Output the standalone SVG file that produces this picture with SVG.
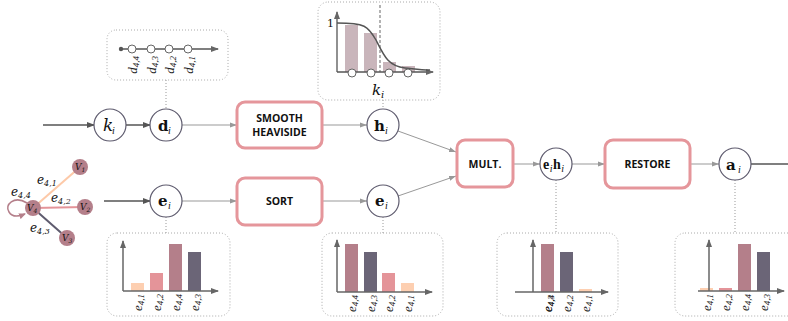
<svg xmlns="http://www.w3.org/2000/svg" width="788" height="321" viewBox="0 0 788 321">
<defs>
<style>
.node{fill:#fff;stroke:#5e5b6e;stroke-width:1.2}
.box{fill:#fff;stroke:#e5969b;stroke-width:3}
.blabel{font-family:"Open Sans","Liberation Sans",sans-serif;font-weight:bold;font-size:10.5px;fill:#111;text-anchor:middle}
.math{font-family:"DejaVu Serif","Liberation Serif",serif;fill:#111}
.mb{font-family:"DejaVu Serif","Liberation Serif",serif;font-weight:bold;font-size:15px;fill:#111}
.mbn{font-family:"Liberation Serif","DejaVu Serif",serif;font-weight:bold;font-size:14px;fill:#111}
.mi{font-family:"Liberation Serif","DejaVu Serif",serif;font-style:italic;font-size:10px;fill:#111}
.dk{stroke:#555;stroke-width:1.5;fill:none}
.lt{stroke:#999;stroke-width:1;fill:none}
.dot{stroke:#999;stroke-width:1;stroke-dasharray:1 2;fill:none}
.dbox{fill:#fff;stroke:#aaa;stroke-width:1;stroke-dasharray:1 2}
.ax{stroke:#666;stroke-width:1.5;fill:none}
.lbl{font-family:"Liberation Serif","DejaVu Serif",serif;font-style:italic;font-size:13px;fill:#222;text-anchor:end}
.peach{fill:#fdcfb1}.pink{fill:#e49499}.mauve{fill:#b47f8a}.dark{fill:#6b6577}
</style>
<marker id="ad" markerWidth="8" markerHeight="8" refX="7" refY="4" orient="auto" markerUnits="userSpaceOnUse"><path d="M0,1 L8,4 L0,7 z" fill="#555"/></marker>
<marker id="al" markerWidth="7" markerHeight="6" refX="7" refY="3" orient="auto" markerUnits="userSpaceOnUse"><path d="M0,0.5 L7,3 L0,5.5 z" fill="#999"/></marker>
<marker id="aa" markerWidth="8" markerHeight="8" refX="7" refY="4" orient="auto" markerUnits="userSpaceOnUse"><path d="M0,1 L8,4 L0,7 z" fill="#666"/></marker>
<marker id="am" markerWidth="7" markerHeight="7" refX="6" refY="3.5" orient="auto" markerUnits="userSpaceOnUse"><path d="M0,0.5 L7,3.5 L0,6.5 z" fill="#b47f8a"/></marker>
</defs>

<g id="connectors">
<line class="dk" x1="43" y1="125" x2="94" y2="125" marker-end="url(#ad)"/>
<line class="dk" x1="126" y1="125" x2="150" y2="125" marker-end="url(#ad)"/>
<line class="lt" x1="182" y1="125" x2="237" y2="125" marker-end="url(#al)"/>
<line class="lt" x1="322" y1="125" x2="367" y2="125" marker-end="url(#al)"/>
<line class="dk" x1="104" y1="201" x2="150" y2="201" marker-end="url(#ad)"/>
<line class="lt" x1="182" y1="201" x2="237" y2="201" marker-end="url(#al)"/>
<line class="lt" x1="322" y1="201" x2="367" y2="201" marker-end="url(#al)"/>
<line class="lt" x1="398" y1="131" x2="456" y2="152" marker-end="url(#al)"/>
<line class="lt" x1="398" y1="196" x2="456" y2="176" marker-end="url(#al)"/>
<line class="lt" x1="513" y1="164" x2="540" y2="164" marker-end="url(#al)"/>
<line class="lt" x1="572" y1="164" x2="605" y2="164" marker-end="url(#al)"/>
<line class="lt" x1="690" y1="164" x2="719" y2="164" marker-end="url(#al)"/>
<line class="dk" x1="751" y1="164" x2="788" y2="164"/>
<line class="dot" x1="166" y1="80" x2="166" y2="109"/>
<line class="dot" x1="383" y1="100" x2="383" y2="109"/>
<line class="dot" x1="166" y1="217" x2="166" y2="233"/>
<line class="dot" x1="383" y1="217" x2="383" y2="233"/>
<line class="dot" x1="556" y1="180" x2="556" y2="233"/>
<line class="dot" x1="735" y1="180" x2="735" y2="233"/>
</g>

<g id="node-k">
<circle class="node" cx="110" cy="125" r="16"/>
<text class="math" x="103" y="131" font-size="17" font-style="italic">k</text><text class="mi" x="112" y="134">i</text>
</g>
<g id="node-d">
<circle class="node" cx="166" cy="125" r="16"/>
<text class="mb" x="158" y="131">d</text><text class="mi" x="168" y="134">i</text>
</g>
<g id="node-smooth">
<rect class="box" x="237" y="102" width="85" height="46" rx="8"/>
<text class="blabel" x="279.5" y="122">SMOOTH</text>
<text class="blabel" x="279.5" y="136">HEAVISIDE</text>
</g>
<g id="node-h">
<circle class="node" cx="383" cy="125" r="16"/>
<text class="mb" x="374" y="131">h</text><text class="mi" x="385" y="134">i</text>
</g>
<g id="node-e1">
<circle class="node" cx="166" cy="201" r="16"/>
<text class="mb" x="158" y="206">e</text><text class="mi" x="168" y="209">i</text>
</g>
<g id="node-sort">
<rect class="box" x="237" y="178" width="85" height="47" rx="8"/>
<text class="blabel" x="279.5" y="205">SORT</text>
</g>
<g id="node-e2">
<circle class="node" cx="383" cy="201" r="16"/>
<text class="mb" x="375" y="206">e</text><text class="mi" x="385" y="209">i</text>
</g>
<g id="node-mult">
<rect class="box" x="457" y="140" width="56" height="47" rx="8"/>
<text class="blabel" x="485" y="168">MULT.</text>
</g>
<g id="node-eh">
<circle class="node" cx="556" cy="164" r="16"/>
<text class="mbn" x="543" y="169">e</text><text class="mi" x="549.8" y="172" font-size="8">i</text><text class="mbn" x="553" y="169">h</text><text class="mi" x="561.3" y="172" font-size="8">i</text>
</g>
<g id="node-restore">
<rect class="box" x="605" y="140" width="85" height="48" rx="8"/>
<text class="blabel" x="647.5" y="168">RESTORE</text>
</g>
<g id="node-a">
<circle class="node" cx="735" cy="164" r="16"/>
<text class="mb" x="726" y="170" font-size="17">a</text><text class="mi" x="738" y="173">i</text>
</g>

<g id="graph">
<line x1="33" y1="208" x2="80" y2="167" stroke="#fdc9a8" stroke-width="2"/>
<line x1="33" y1="208" x2="85" y2="207" stroke="#e49499" stroke-width="2"/>
<line x1="33" y1="208" x2="67" y2="238" stroke="#5e5b6e" stroke-width="2"/>
<path d="M27,203 C14,195 4,205 9,212 C12,217 18,217 25,214" fill="none" stroke="#b47f8a" stroke-width="1.5" marker-end="url(#am)"/>
<circle cx="33" cy="208" r="8" fill="#b47f8a"/>
<circle cx="80" cy="167" r="8" fill="#b47f8a"/>
<circle cx="85" cy="207" r="8" fill="#b47f8a"/>
<circle cx="67" cy="238" r="8" fill="#b47f8a"/>
<text class="math" font-size="9" font-style="italic" x="27" y="211">V<tspan font-size="6" dy="2">4</tspan></text>
<text class="math" font-size="9" font-style="italic" x="75" y="170">V<tspan font-size="6" dy="2">1</tspan></text>
<text class="math" font-size="9" font-style="italic" x="80" y="210">V<tspan font-size="6" dy="2">2</tspan></text>
<text class="math" font-size="9" font-style="italic" x="62" y="241">V<tspan font-size="6" dy="2">3</tspan></text>
<text class="math" font-size="12" font-style="italic" x="37" y="184">e<tspan font-size="8" dy="2">4,1</tspan></text>
<text class="math" font-size="12" font-style="italic" x="51" y="202">e<tspan font-size="8" dy="2">4,2</tspan></text>
<text class="math" font-size="12" font-style="italic" x="11" y="196">e<tspan font-size="8" dy="2">4,4</tspan></text>
<text class="math" font-size="12" font-style="italic" x="30" y="232">e<tspan font-size="8" dy="2">4,3</tspan></text>
</g>

<g id="panel-d">
<rect class="dbox" x="107" y="30" width="121" height="50" rx="9"/>
<line x1="121" y1="49" x2="218" y2="49" stroke="#555" stroke-width="1.3" marker-end="url(#aa)"/>
<circle cx="121" cy="49" r="2.2" fill="#555"/>
<circle cx="132" cy="49" r="4" fill="#fff" stroke="#666"/>
<circle cx="151" cy="49" r="4" fill="#fff" stroke="#666"/>
<circle cx="169" cy="49" r="4" fill="#fff" stroke="#666"/>
<circle cx="188" cy="49" r="4" fill="#fff" stroke="#666"/>
<text class="lbl" transform="rotate(-90 137 56)" x="137" y="56">d<tspan font-size="9" dy="2">4,4</tspan></text>
<text class="lbl" transform="rotate(-90 156 56)" x="156" y="56">d<tspan font-size="9" dy="2">4,3</tspan></text>
<text class="lbl" transform="rotate(-90 174 56)" x="174" y="56">d<tspan font-size="9" dy="2">4,2</tspan></text>
<text class="lbl" transform="rotate(-90 193 56)" x="193" y="56">d<tspan font-size="9" dy="2">4,1</tspan></text>
</g>

<g id="panel-h">
<rect class="dbox" x="318" y="2" width="122" height="98" rx="10"/>
<rect x="345" y="25" width="13" height="47" fill="#c9b5bb"/>
<rect x="364" y="33" width="13" height="39" fill="#c9b5bb"/>
<rect x="383" y="62" width="13" height="10" fill="#c9b5bb"/>
<rect x="402" y="66" width="13" height="6" fill="#c9b5bb"/>
<line x1="380" y1="5" x2="380" y2="72" stroke="#999" stroke-width="1.5" stroke-dasharray="3 2"/>
<line x1="337" y1="72" x2="337" y2="12" stroke="#555" stroke-width="1.3" marker-end="url(#aa)"/>
<line x1="337" y1="72" x2="433" y2="72" stroke="#555" stroke-width="1.3" marker-end="url(#aa)"/>
<path d="M337,23 C365,23 368,26 376,40 C384,56 388,66 405,68 C415,69 420,70 430,70" fill="none" stroke="#555" stroke-width="1.5"/>
<circle cx="352" cy="73" r="4" fill="#fff" stroke="#666"/>
<circle cx="371" cy="73" r="4" fill="#fff" stroke="#666"/>
<circle cx="389" cy="73" r="4" fill="#fff" stroke="#666"/>
<circle cx="408" cy="73" r="4" fill="#fff" stroke="#666"/>
<text class="math" font-size="11" x="327" y="27">1</text>
<text class="math" font-size="15" font-style="italic" x="372" y="95">k<tspan font-size="10" dy="3">i</tspan></text>
</g>

<g id="panel-e1">
<rect class="dbox" x="107" y="233" width="123" height="83" rx="10"/>
<rect class="peach" x="131" y="283" width="13" height="8"/>
<rect class="pink" x="150" y="273" width="13" height="18"/>
<rect class="mauve" x="169" y="244" width="13" height="47"/>
<rect class="dark" x="188" y="252" width="13" height="39"/>
<line class="ax" x1="123" y1="291" x2="123" y2="241" marker-end="url(#aa)"/>
<line class="ax" x1="123" y1="291" x2="218" y2="291" marker-end="url(#aa)"/>
<text class="lbl" transform="rotate(-90 142 294)" x="142" y="294">e<tspan font-size="9" dy="2">4,1</tspan></text>
<text class="lbl" transform="rotate(-90 161 294)" x="161" y="294">e<tspan font-size="9" dy="2">4,2</tspan></text>
<text class="lbl" transform="rotate(-90 180 294)" x="180" y="294">e<tspan font-size="9" dy="2">4,4</tspan></text>
<text class="lbl" transform="rotate(-90 199 294)" x="199" y="294">e<tspan font-size="9" dy="2">4,3</tspan></text>
</g>

<g id="panel-e2">
<rect class="dbox" x="322" y="233" width="121" height="83" rx="10"/>
<rect class="mauve" x="345" y="244" width="13" height="48"/>
<rect class="dark" x="364" y="252" width="13" height="40"/>
<rect class="pink" x="382" y="273" width="13" height="19"/>
<rect class="peach" x="401" y="283" width="13" height="9"/>
<line class="ax" x1="337" y1="292" x2="337" y2="240" marker-end="url(#aa)"/>
<line class="ax" x1="337" y1="292" x2="432" y2="292" marker-end="url(#aa)"/>
<text class="lbl" transform="rotate(-90 356 295)" x="356" y="295">e<tspan font-size="9" dy="2">4,4</tspan></text>
<text class="lbl" transform="rotate(-90 375 295)" x="375" y="295">e<tspan font-size="9" dy="2">4,3</tspan></text>
<text class="lbl" transform="rotate(-90 393 295)" x="393" y="295">e<tspan font-size="9" dy="2">4,2</tspan></text>
<text class="lbl" transform="rotate(-90 412 295)" x="412" y="295">e<tspan font-size="9" dy="2">4,1</tspan></text>
</g>

<g id="panel-eh">
<rect class="dbox" x="497" y="233" width="121" height="83" rx="10"/>
<rect class="mauve" x="541" y="244" width="13" height="48"/>
<rect class="dark" x="560" y="252" width="13" height="40"/>
<rect class="peach" x="579" y="289" width="13" height="3"/>
<line class="ax" x1="533" y1="292" x2="533" y2="240" marker-end="url(#aa)"/>
<line class="ax" x1="515" y1="292" x2="608" y2="292" marker-end="url(#aa)"/>
<text class="lbl" transform="rotate(-90 552 295)" x="552" y="295">e<tspan font-size="9" dy="2">4,3</tspan></text>
<text class="lbl" transform="rotate(-90 552 295)" x="552" y="295">e<tspan font-size="9" dy="2">4,4</tspan></text>
<text class="lbl" transform="rotate(-90 571 295)" x="571" y="295">e<tspan font-size="9" dy="2">4,2</tspan></text>
<text class="lbl" transform="rotate(-90 590 295)" x="590" y="295">e<tspan font-size="9" dy="2">4,1</tspan></text>
</g>

<g id="panel-a">
<rect class="dbox" x="675" y="233" width="125" height="83" rx="10"/>
<rect class="peach" x="700" y="288" width="13" height="3"/>
<rect class="pink" x="719" y="288" width="13" height="3"/>
<rect class="mauve" x="738" y="244" width="13" height="47"/>
<rect class="dark" x="757" y="252" width="13" height="39"/>
<line class="ax" x1="709" y1="291" x2="709" y2="240" marker-end="url(#aa)"/>
<line class="ax" x1="698" y1="291" x2="784" y2="291" marker-end="url(#aa)"/>
<text class="lbl" transform="rotate(-90 711 294)" x="711" y="294">e<tspan font-size="9" dy="2">4,1</tspan></text>
<text class="lbl" transform="rotate(-90 730 294)" x="730" y="294">e<tspan font-size="9" dy="2">4,2</tspan></text>
<text class="lbl" transform="rotate(-90 749 294)" x="749" y="294">e<tspan font-size="9" dy="2">4,4</tspan></text>
<text class="lbl" transform="rotate(-90 768 294)" x="768" y="294">e<tspan font-size="9" dy="2">4,3</tspan></text>
</g>
</svg>
